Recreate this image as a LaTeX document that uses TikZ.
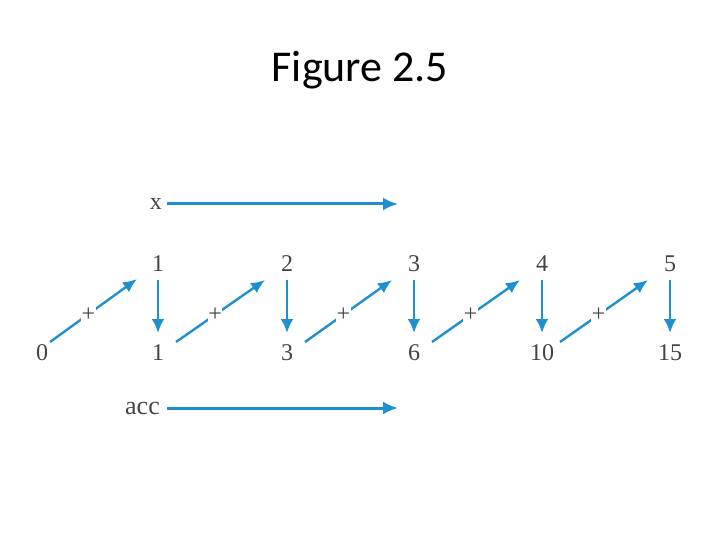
\documentclass[tikz,border=0pt]{standalone}
\usepackage{fontspec}
\setmainfont{Liberation Serif}
\newfontfamily\titlefont{Carlito}
\usetikzlibrary{arrows.meta}
\definecolor{arrowblue}{HTML}{1E90D0}
\definecolor{numgray}{HTML}{444444}
\tikzset{
  num/.style={text=numgray,font=\fontsize{24}{26}\selectfont,inner sep=0pt},
  flow/.style={draw=arrowblue,line width=3pt,-{Latex[length=15pt,width=13pt]}},
  down/.style={draw=arrowblue,line width=2.8pt,-{Latex[length=14pt,width=13pt]}},
  diag/.style={draw=arrowblue,line width=2.4pt,-{Latex[length=14pt,width=12pt]}},
  plus/.style={text=numgray,font=\fontsize{24}{26}\selectfont,fill=white,inner sep=0.5pt},
}
\begin{document}
\begin{tikzpicture}[x=1pt,y=-1pt]
\useasboundingbox[fill=white] (0,0) rectangle (720,540);
\node[anchor=base,font=\titlefont\fontsize{44}{48}\selectfont] (title) at (360,82) {Figure 2.5};
% labels
\node[num,anchor=east] (xl) at (162,204) {x};
\node[num,anchor=east,font=\fontsize{26}{28}\selectfont] (accl) at (160,408) {acc};
\coordinate (xe) at (398,204);
\coordinate (acce) at (398,408);
\draw[flow] (xl.east) ++(5,0) -- (xe);
\draw[flow] (accl.east) ++(7,0) -- (acce);
% top row
\foreach \i/\xx in {1/158,2/287,3/414,4/542,5/670}{
  \node[num] (t\i) at (\xx,264) {\i};
}
% bottom row
\node[num] (b0) at (42,353) {0};
\node[num] (b1) at (158,353) {1};
\node[num] (b2) at (287,353) {3};
\node[num] (b3) at (414,353) {6};
\node[num] (b4) at (542,353) {10};
\node[num] (b5) at (670,353) {15};
% vertical arrows
\foreach \i in {1,...,5}{
  \draw[down] ([yshift=-16pt]t\i.center) -- ([yshift=20pt]b\i.center);
}
% diagonal arrows
\draw[diag] ([shift={(8,-11)}]b0.center) -- node[plus,pos=0.44]{+} ([shift={(-21,15)}]t1.center);
\foreach \a/\b in {1/2,2/3,3/4,4/5}{
  \draw[diag] ([shift={(18,-11)}]b\a.center) -- node[plus,pos=0.44]{+} ([shift={(-22,16)}]t\b.center);
}
\end{tikzpicture}
\end{document}
